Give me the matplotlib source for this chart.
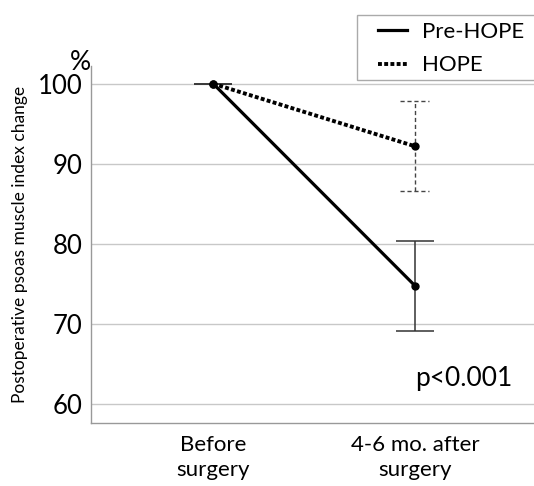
import matplotlib.pyplot as plt
from matplotlib.patches import Rectangle

plt.rcParams['font.family'] = ['Lato', 'DejaVu Sans']

categories = ['Before\nsurgery', '4-6 mo. after\nsurgery']
pre_hope = [100, 74.8]
pre_hope_err = [0, 5.6]
hope = [100, 92.2]
hope_err = [0, 5.6]

fig = plt.figure(figsize=(5.34, 4.86), dpi=100)
ax = fig.add_axes([0.170, 0.130, 0.83, 0.734])

x = [0, 1]
cap = 0.072

# error bars first, lines on top
ax.errorbar(x, pre_hope, yerr=pre_hope_err, fmt='none', ecolor='#333333',
            elinewidth=1.1, capsize=14, capthick=1.1, zorder=3)
eb2 = ax.errorbar(x, hope, yerr=hope_err, fmt='none', ecolor='#444444',
                  elinewidth=1.0, capsize=0, zorder=3)
for c in eb2[2]:
    c.set_linestyle((0, (3, 2)))
for xi, h, e in zip(x, hope, hope_err):
    if e > 0:
        ax.hlines([h - e, h + e], xi - cap, xi + cap, colors='#444444',
                  lw=1.0, linestyles=(0, (3, 2)), zorder=3)

line1, = ax.plot(x, pre_hope, color='black', lw=2.3, marker='o', ms=5,
                 label='Pre-HOPE', zorder=4)
line2, = ax.plot(x, hope, color='black', lw=2.8, ls=(0, (1, 0.6)), marker='o',
                 ms=5, label='HOPE', zorder=4)

ax.set_xlim(-0.607, 1.59)
ax.set_ylim(57.7, 102.2)
ax.set_yticks([60, 70, 80, 90, 100])
ax.set_xticks(x)
ax.set_xticklabels(categories, fontsize=16, linespacing=1.3)
ax.tick_params(axis='y', labelsize=18.5, length=0, pad=6)
ax.tick_params(axis='x', length=0, pad=9)
ax.grid(axis='y', color='#c8c8c8', lw=1.0)
ax.set_axisbelow(True)
for s in ['top', 'right']:
    ax.spines[s].set_visible(False)
for s in ['left', 'bottom']:
    ax.spines[s].set_color('#999999')
    ax.spines[s].set_linewidth(1.0)

ax.set_ylabel('Postoperative psoas muscle index change', fontsize=12.5, labelpad=7)
ax.text(0.0, 0.975, '%', transform=ax.transAxes, fontsize=19, ha='right', va='bottom')
ax.text(1.0, 63.2, 'p<0.001', fontsize=19, ha='left', va='center')

# legend box drawn separately (wider padding on the left than on top)
fig.patches.append(Rectangle((357 / 534, 1 - 80 / 486), 200 / 534, 65 / 486,
                             transform=fig.transFigure, facecolor='white',
                             edgecolor='#aaaaaa', lw=1.0, zorder=5))
leg = fig.legend(handles=[line1, line2], labels=['Pre-HOPE', 'HOPE'],
                 loc='upper left', bbox_to_anchor=(378 / 534, 1 - 22 / 486),
                 fontsize=16, frameon=False, handlelength=1.3,
                 handletextpad=0.7, borderpad=0, borderaxespad=0,
                 labelspacing=0.6)
leg.set_zorder(6)
for h in leg.legend_handles:
    h.set_marker('')

fig.savefig('out.png', dpi=100)
